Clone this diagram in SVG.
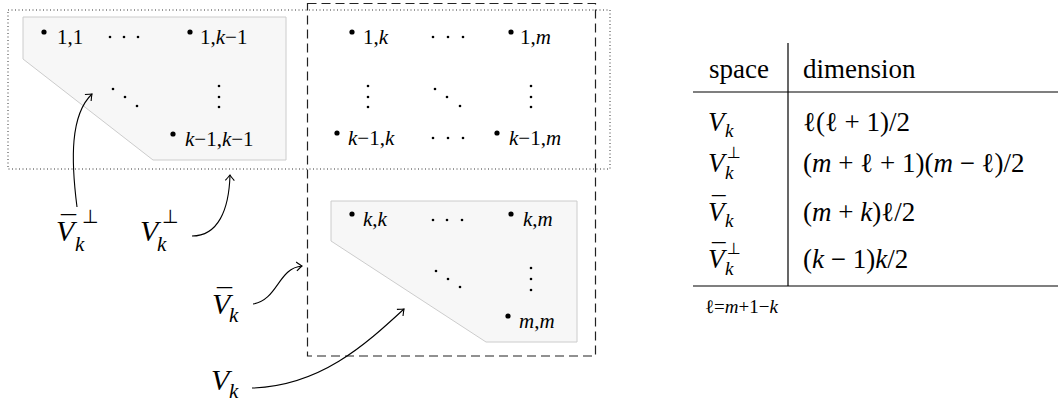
<svg xmlns="http://www.w3.org/2000/svg" width="1059" height="406" viewBox="0 0 1059 406">
<defs>
<marker id="to" markerUnits="userSpaceOnUse" markerWidth="14" markerHeight="14" viewBox="-8 -7 10 14" refX="0" refY="0" orient="auto">
<path d="M-5.5,-4.5 Q-1.5,-1 0,0 Q-1.5,1 -5.5,4.5" fill="none" stroke="#000" stroke-width="1.1"/>
</marker>
</defs>

<g id="frames">
<rect x="8" y="10" width="602" height="159" fill="none" stroke="#333" stroke-width="1" stroke-dasharray="1 2.5"/>
<polygon points="23,17 286,17 286,160 153,160 23,59" fill="#f7f7f7" stroke="#cccccc" stroke-width="1"/>
<polygon points="331,201 577,201 577,342 486,342 331,241" fill="#f7f7f7" stroke="#cccccc" stroke-width="1"/>
<rect x="307.5" y="3.5" width="288" height="352.5" fill="none" stroke="#222" stroke-width="1.2" stroke-dasharray="9 5"/>
</g>

<g id="node-1-1"><circle cx="44" cy="32" r="2.6" fill="#000"/><text x="57" y="44" font-family="Liberation Serif" font-size="21">1,1</text></g>
<g id="node-1-km1"><circle cx="190" cy="32" r="2.6" fill="#000"/><text x="200" y="44" font-family="Liberation Serif" font-size="21">1,<tspan font-style="italic">k</tspan>−1</text></g>
<g id="node-km1-km1"><circle cx="173" cy="134" r="2.6" fill="#000"/><text x="185" y="146" font-family="Liberation Serif" font-size="21"><tspan font-style="italic">k</tspan>−1,<tspan font-style="italic">k</tspan>−1</text></g>
<g id="node-1-k"><circle cx="352" cy="32" r="2.6" fill="#000"/><text x="363" y="44" font-family="Liberation Serif" font-size="21">1,<tspan font-style="italic">k</tspan></text></g>
<g id="node-1-m"><circle cx="511" cy="32" r="2.6" fill="#000"/><text x="520" y="44" font-family="Liberation Serif" font-size="21">1,<tspan font-style="italic">m</tspan></text></g>
<g id="node-km1-k"><circle cx="337" cy="133" r="2.6" fill="#000"/><text x="348" y="145" font-family="Liberation Serif" font-size="21"><tspan font-style="italic">k</tspan>−1,<tspan font-style="italic">k</tspan></text></g>
<g id="node-km1-m"><circle cx="497" cy="133" r="2.6" fill="#000"/><text x="509" y="145" font-family="Liberation Serif" font-size="21"><tspan font-style="italic">k</tspan>−1,<tspan font-style="italic">m</tspan></text></g>
<g id="node-k-k"><circle cx="352" cy="214" r="2.6" fill="#000"/><text x="363" y="226" font-family="Liberation Serif" font-size="21"><tspan font-style="italic">k</tspan>,<tspan font-style="italic">k</tspan></text></g>
<g id="node-k-m"><circle cx="511" cy="214" r="2.6" fill="#000"/><text x="523" y="226" font-family="Liberation Serif" font-size="21"><tspan font-style="italic">k</tspan>,<tspan font-style="italic">m</tspan></text></g>
<g id="node-m-m"><circle cx="508" cy="316" r="2.6" fill="#000"/><text x="519" y="328" font-family="Liberation Serif" font-size="21"><tspan font-style="italic">m</tspan>,<tspan font-style="italic">m</tspan></text></g>

<g id="ellipses" fill="#000">
<circle cx="110" cy="37" r="1.3"/><circle cx="124" cy="37" r="1.3"/><circle cx="138" cy="37" r="1.3"/>
<circle cx="113" cy="89" r="1.3"/><circle cx="125" cy="97" r="1.3"/><circle cx="137" cy="106" r="1.3"/>
<circle cx="219" cy="86" r="1.3"/><circle cx="219" cy="97" r="1.3"/><circle cx="219" cy="107" r="1.3"/>
<circle cx="433" cy="37" r="1.3"/><circle cx="448" cy="37" r="1.3"/><circle cx="463" cy="37" r="1.3"/>
<circle cx="368" cy="86" r="1.3"/><circle cx="368" cy="97" r="1.3"/><circle cx="368" cy="107" r="1.3"/>
<circle cx="435" cy="89" r="1.3"/><circle cx="447" cy="97" r="1.3"/><circle cx="460" cy="106" r="1.3"/>
<circle cx="531" cy="86" r="1.3"/><circle cx="531" cy="97" r="1.3"/><circle cx="531" cy="107" r="1.3"/>
<circle cx="433" cy="138" r="1.3"/><circle cx="448" cy="138" r="1.3"/><circle cx="463" cy="138" r="1.3"/>
<circle cx="433" cy="220" r="1.3"/><circle cx="447" cy="220" r="1.3"/><circle cx="462" cy="220" r="1.3"/>
<circle cx="436" cy="271" r="1.3"/><circle cx="448" cy="279" r="1.3"/><circle cx="460" cy="287" r="1.3"/>
<circle cx="531" cy="268" r="1.3"/><circle cx="531" cy="279" r="1.3"/><circle cx="531" cy="290" r="1.3"/>
</g>

<g id="connectors" fill="none" stroke="#000" stroke-width="1.1">
<path marker-end="url(#to)" d="M77,207 C71,160 70,115 92,94"/>
<path marker-end="url(#to)" d="M192,236 C218,236 229,210 230,175"/>
<path marker-end="url(#to)" d="M253,304 C278,300 278,268 302,266"/>
<path marker-end="url(#to)" d="M252,388 C320,386 365,345 404,309"/>
</g>

<g id="label-Vbar-perp">
<text x="56" y="241" font-family="Liberation Serif" font-size="30" font-style="italic">V</text>
<text x="61" y="236" font-family="Liberation Serif" font-size="30">¯</text>
<text x="75" y="251" font-family="Liberation Serif" font-size="21" font-style="italic">k</text>
<text x="82" y="223" font-family="DejaVu Sans" font-size="19">⊥</text>
</g>
<g id="label-V-perp">
<text x="140" y="241" font-family="Liberation Serif" font-size="30" font-style="italic">V</text>
<text x="157" y="251" font-family="Liberation Serif" font-size="21" font-style="italic">k</text>
<text x="162" y="223" font-family="DejaVu Sans" font-size="19">⊥</text>
</g>
<g id="label-Vbar">
<text x="212" y="314" font-family="Liberation Serif" font-size="30" font-style="italic">V</text>
<text x="217" y="309" font-family="Liberation Serif" font-size="30">¯</text>
<text x="229" y="322" font-family="Liberation Serif" font-size="21" font-style="italic">k</text>
</g>
<g id="label-V">
<text x="211" y="390" font-family="Liberation Serif" font-size="30" font-style="italic">V</text>
<text x="229" y="398" font-family="Liberation Serif" font-size="21" font-style="italic">k</text>
</g>

<g id="table">
<g stroke="#000" stroke-width="1.2">
<line x1="788" y1="43" x2="788" y2="286"/>
<line x1="693" y1="92" x2="1058" y2="92"/>
<line x1="693" y1="286" x2="1058" y2="286"/>
</g>
<text x="709" y="78" font-family="Liberation Serif" font-size="27">space</text>
<text x="803" y="78" font-family="Liberation Serif" font-size="27">dimension</text>
<text x="708" y="131" font-family="Liberation Serif" font-size="27" font-style="italic">V</text>
<text x="725" y="137" font-family="Liberation Serif" font-size="19" font-style="italic">k</text>
<text x="803" y="131" font-family="Liberation Serif" font-size="27">ℓ(ℓ + 1)/2</text>
<text x="708" y="172" font-family="Liberation Serif" font-size="27" font-style="italic">V</text>
<text x="725" y="179" font-family="Liberation Serif" font-size="19" font-style="italic">k</text>
<text x="727" y="158" font-family="DejaVu Sans" font-size="16">⊥</text>
<text x="803" y="172" font-family="Liberation Serif" font-size="27">(<tspan font-style="italic">m</tspan> + ℓ + 1)(<tspan font-style="italic">m</tspan> − ℓ)/2</text>
<text x="708" y="221" font-family="Liberation Serif" font-size="27" font-style="italic">V</text>
<text x="712" y="216" font-family="Liberation Serif" font-size="27">¯</text>
<text x="725" y="227" font-family="Liberation Serif" font-size="19" font-style="italic">k</text>
<text x="803" y="221" font-family="Liberation Serif" font-size="27">(<tspan font-style="italic">m</tspan> + <tspan font-style="italic">k</tspan>)ℓ/2</text>
<text x="708" y="268" font-family="Liberation Serif" font-size="27" font-style="italic">V</text>
<text x="712" y="263" font-family="Liberation Serif" font-size="27">¯</text>
<text x="725" y="275" font-family="Liberation Serif" font-size="19" font-style="italic">k</text>
<text x="727" y="254" font-family="DejaVu Sans" font-size="16">⊥</text>
<text x="803" y="268" font-family="Liberation Serif" font-size="27">(<tspan font-style="italic">k</tspan> − 1)<tspan font-style="italic">k</tspan>/2</text>
<text x="705" y="313" font-family="Liberation Serif" font-size="19">ℓ=<tspan font-style="italic">m</tspan>+1−<tspan font-style="italic">k</tspan></text>
</g>
</svg>
